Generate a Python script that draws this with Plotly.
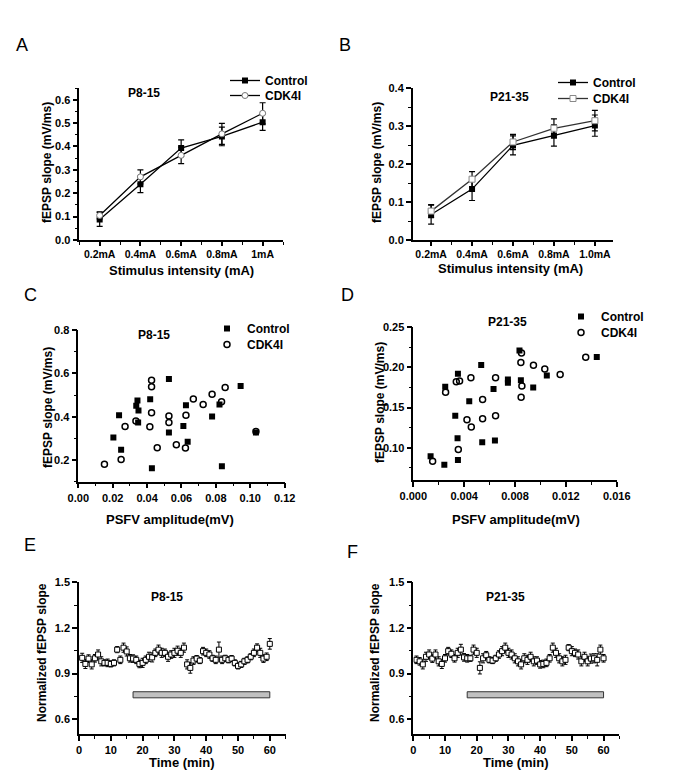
import plotly.graph_objects as go

# ---------------- data ----------------
stim_A = ["0.2mA", "0.4mA", "0.6mA", "0.8mA", "1mA"]
stim_B = ["0.2mA", "0.4mA", "0.6mA", "0.8mA", "1.0mA"]

A_ctrl = [0.088, 0.238, 0.393, 0.443, 0.504]
A_ctrl_err = [0.030, 0.035, 0.035, 0.040, 0.035]
A_cdk = [0.105, 0.270, 0.362, 0.454, 0.542]
A_cdk_err = [0.015, 0.030, 0.035, 0.045, 0.045]

B_ctrl = [0.067, 0.134, 0.249, 0.275, 0.301]
B_ctrl_err = [0.025, 0.030, 0.025, 0.028, 0.028]
B_cdk = [0.076, 0.160, 0.258, 0.294, 0.314]
B_cdk_err = [0.017, 0.020, 0.020, 0.025, 0.027]

C_ctrl_x = [0.0204, 0.0237, 0.0249, 0.0337, 0.0344, 0.0350, 0.0348, 0.0418, 0.0428, 0.0527,
            0.0527, 0.0611, 0.0626, 0.0636, 0.0778, 0.0821, 0.0835, 0.0944, 0.1033]
C_ctrl_y = [0.304, 0.407, 0.248, 0.450, 0.475, 0.429, 0.373, 0.481, 0.162, 0.574,
            0.327, 0.357, 0.453, 0.284, 0.401, 0.456, 0.171, 0.542, 0.327]
C_cdk_x = [0.0152, 0.0249, 0.0272, 0.0335, 0.0426, 0.0426, 0.0426, 0.0416, 0.0459, 0.0527,
           0.0527, 0.0570, 0.0623, 0.0626, 0.0669, 0.0726, 0.0778, 0.0833, 0.0854, 0.1033]
C_cdk_y = [0.180, 0.202, 0.355, 0.380, 0.568, 0.538, 0.418, 0.353, 0.257, 0.403,
           0.373, 0.271, 0.255, 0.407, 0.482, 0.456, 0.504, 0.469, 0.535, 0.332]

D_ctrl_x = [0.00136, 0.00244, 0.00251, 0.00330, 0.00348, 0.00351, 0.00351, 0.00440, 0.00534, 0.00542,
            0.00631, 0.00642, 0.00744, 0.00744, 0.00835, 0.00846, 0.00943, 0.01050, 0.01443]
D_ctrl_y = [0.0896, 0.0790, 0.176, 0.140, 0.112, 0.085, 0.192, 0.158, 0.203, 0.107,
            0.173, 0.109, 0.185, 0.181, 0.221, 0.184, 0.175, 0.190, 0.213]
D_cdk_x = [0.00152, 0.00254, 0.00338, 0.00364, 0.00354, 0.00422, 0.00456, 0.00453, 0.00545, 0.00545,
           0.00647, 0.00647, 0.00851, 0.00846, 0.00854, 0.00848, 0.00945, 0.01034, 0.01155, 0.01356]
D_cdk_y = [0.0833, 0.169, 0.182, 0.183, 0.098, 0.135, 0.126, 0.187, 0.160, 0.136,
           0.187, 0.140, 0.218, 0.206, 0.177, 0.163, 0.2025, 0.198, 0.191, 0.2125]

time_min = list(range(1, 61))
E_vals = [1.003, 0.963, 0.998, 0.960, 1.000, 1.025, 0.980, 0.970, 0.970, 0.963,
          0.970, 1.057, 0.990, 1.070, 1.045, 1.000, 0.998, 0.990, 0.963, 0.970,
          0.990, 1.010, 1.006, 1.036, 1.057, 1.036, 1.036, 1.010, 1.025, 1.036,
          1.050, 1.036, 1.070, 0.960, 0.937, 0.985, 0.998, 0.985, 1.047, 1.036,
          1.025, 1.000, 0.990, 1.057, 0.990, 1.000, 0.990, 0.998, 0.970, 0.950,
          0.960, 0.980, 0.990, 1.010, 1.036, 1.070, 1.036, 0.998, 1.010, 1.095]
E_err = [0.030, 0.030, 0.025, 0.030, 0.025, 0.030, 0.030, 0.020, 0.025, 0.020,
         0.020, 0.020, 0.025, 0.030, 0.030, 0.025, 0.025, 0.025, 0.025, 0.030,
         0.025, 0.030, 0.030, 0.025, 0.030, 0.030, 0.025, 0.030, 0.025, 0.030,
         0.030, 0.030, 0.030, 0.030, 0.035, 0.025, 0.020, 0.020, 0.025, 0.025,
         0.025, 0.020, 0.025, 0.050, 0.025, 0.020, 0.020, 0.020, 0.020, 0.020,
         0.020, 0.020, 0.020, 0.020, 0.025, 0.025, 0.030, 0.025, 0.025, 0.035]
F_vals = [0.990, 0.980, 0.960, 1.010, 1.025, 0.998, 1.025, 0.980, 0.963, 1.000,
          1.047, 1.030, 1.000, 1.036, 1.057, 1.006, 1.000, 1.000, 1.057, 1.036,
          0.937, 1.000, 1.020, 0.990, 0.985, 1.000, 1.025, 1.047, 1.070, 1.036,
          1.025, 1.000, 0.980, 0.960, 1.000, 0.990, 1.010, 0.980, 0.985, 0.960,
          0.963, 0.970, 1.000, 1.070, 1.036, 1.000, 0.980, 0.990, 1.070, 1.047,
          1.036, 1.025, 0.980, 1.010, 0.980, 0.998, 1.000, 0.990, 1.057, 1.000]
F_err = [0.025, 0.025, 0.030, 0.030, 0.030, 0.025, 0.030, 0.030, 0.030, 0.025,
         0.025, 0.025, 0.025, 0.030, 0.035, 0.025, 0.025, 0.020, 0.030, 0.030,
         0.040, 0.030, 0.025, 0.020, 0.020, 0.020, 0.025, 0.030, 0.030, 0.030,
         0.030, 0.030, 0.030, 0.030, 0.030, 0.030, 0.030, 0.030, 0.025, 0.025,
         0.025, 0.025, 0.025, 0.030, 0.030, 0.030, 0.030, 0.030, 0.020, 0.030,
         0.025, 0.030, 0.030, 0.030, 0.030, 0.030, 0.030, 0.040, 0.030, 0.025]
drug_window = [17, 60]
drug_band = [0.74, 0.78]

FONT = "Liberation Sans, Arial, sans-serif"
W, H = 685, 770


def px(x):
    return x / W


def py(y):
    return 1 - y / H


def axis(domain, rng, tick0, dtick, mtick0, mdtick, fmt=None, tickvals=None, ticktext=None,
         anchor=None, ticklen=5, fsize=11):
    d = dict(
        domain=domain, range=rng, showline=True, linecolor="black", linewidth=1.5,
        ticks="outside", ticklen=ticklen, tickwidth=1.5, tickcolor="black",
        showgrid=False, zeroline=False, mirror=False, automargin=False,
        tickfont=dict(family=FONT, size=fsize, color="black", weight="bold"),
        minor=dict(ticks="outside", ticklen=3, tickwidth=1, tickcolor="black",
                   tick0=mtick0, dtick=mdtick, showgrid=False),
        anchor=anchor,
    )
    if tickvals is not None:
        d.update(tickmode="array", tickvals=tickvals, ticktext=["<b>%s</b>" % t for t in ticktext])
    else:
        d.update(tick0=tick0, dtick=dtick, tickprefix="<b>", ticksuffix="</b>")
    if fmt:
        d["tickformat"] = fmt
    return d


fig = go.Figure()

idxA = list(range(len(stim_A)))
idxB = list(range(len(stim_B)))

err = lambda arr: dict(type="data", array=arr, visible=True, color="black", thickness=1.2, width=3)

# Panel A
fig.add_trace(go.Scatter(x=idxA, y=A_ctrl, error_y=err(A_ctrl_err), mode="lines+markers", name="Control",
                         line=dict(color="black", width=1.3),
                         marker=dict(symbol="square", size=6, color="black"),
                         xaxis="x", yaxis="y", legend="legend"))
fig.add_trace(go.Scatter(x=idxA, y=A_cdk, error_y=err(A_cdk_err), mode="lines+markers", name="CDK4I",
                         line=dict(color="black", width=1.3),
                         marker=dict(symbol="circle", size=6, color="white", line=dict(color="#777", width=1)),
                         xaxis="x", yaxis="y", legend="legend5"))
# Panel B
fig.add_trace(go.Scatter(x=idxB, y=B_ctrl, error_y=err(B_ctrl_err), mode="lines+markers", name="Control",
                         line=dict(color="black", width=1.3),
                         marker=dict(symbol="square", size=6, color="black"),
                         xaxis="x2", yaxis="y2", legend="legend2"))
fig.add_trace(go.Scatter(x=idxB, y=B_cdk, error_y=err(B_cdk_err), mode="lines+markers", name="CDK4I",
                         line=dict(color="#333", width=1.3),
                         marker=dict(symbol="square", size=6, color="white", line=dict(color="#888", width=1)),
                         xaxis="x2", yaxis="y2", legend="legend6"))
# Panel C
fig.add_trace(go.Scatter(x=C_ctrl_x, y=C_ctrl_y, mode="markers", name="Control",
                         marker=dict(symbol="square", size=6, color="black"),
                         xaxis="x3", yaxis="y3", legend="legend3"))
fig.add_trace(go.Scatter(x=C_cdk_x, y=C_cdk_y, mode="markers", name="CDK4I",
                         marker=dict(symbol="circle-open", size=6, color="black", line=dict(width=1.5)),
                         xaxis="x3", yaxis="y3", legend="legend7"))
# Panel D
fig.add_trace(go.Scatter(x=D_ctrl_x, y=D_ctrl_y, mode="markers", name="Control",
                         marker=dict(symbol="square", size=6, color="black"),
                         xaxis="x4", yaxis="y4", legend="legend4"))
fig.add_trace(go.Scatter(x=D_cdk_x, y=D_cdk_y, mode="markers", name="CDK4I",
                         marker=dict(symbol="circle-open", size=6, color="black", line=dict(width=1.5)),
                         xaxis="x4", yaxis="y4", legend="legend8"))
# Panel E, F
errs = lambda arr: dict(type="data", array=arr, visible=True, color="black", thickness=1, width=2)
fig.add_trace(go.Scatter(x=time_min, y=E_vals, error_y=errs(E_err), mode="markers", showlegend=False,
                         marker=dict(symbol="square", size=5, color="white", line=dict(color="black", width=1)),
                         xaxis="x5", yaxis="y5"))
fig.add_trace(go.Scatter(x=time_min, y=F_vals, error_y=errs(F_err), mode="markers", showlegend=False,
                         marker=dict(symbol="square", size=5, color="white", line=dict(color="black", width=1)),
                         xaxis="x6", yaxis="y6"))

for xa, ya in (("x5", "y5"), ("x6", "y6")):
    fig.add_shape(type="rect", xref=xa, yref=ya, x0=drug_window[0], x1=drug_window[1],
                  y0=drug_band[0], y1=drug_band[1], fillcolor="#c0c0c0", line=dict(color="#333", width=1))

rowA = [py(240), py(88)]
rowC_y = [py(481.7), py(330)]
rowD_y = [py(480), py(327)]
rowE = [py(734.3), py(582.3)]

fig.update_layout(
    width=W, height=H, margin=dict(l=0, r=0, t=0, b=0),
    paper_bgcolor="white", plot_bgcolor="white",
    font=dict(family=FONT, color="black"),
    xaxis=axis([px(79.3), px(283)], [-0.5, 4.5], None, None, -0.5, 0.5,
               tickvals=idxA, ticktext=stim_A, anchor="y", ticklen=4, fsize=10.5),
    yaxis=axis(rowA, [0, 0.65], 0, 0.1, 0.05, 0.1, fmt=".1f", anchor="x"),
    xaxis2=axis([px(412.7), px(613.3)], [-0.45, 4.45], None, None, -0.5, 0.5,
                tickvals=idxB, ticktext=stim_B, anchor="y2", ticklen=4, fsize=10.5),
    yaxis2=axis(rowA, [0, 0.4], 0, 0.1, 0.05, 0.1, fmt=".1f", anchor="x2"),
    xaxis3=axis([px(78.3), px(285)], [0, 0.1202], 0, 0.02, 0.01, 0.02, fmt=".2f", anchor="y3"),
    yaxis3=axis(rowC_y, [0.1, 0.8], 0, 0.2, 0.1, 0.2, fmt=".1f", anchor="x3"),
    xaxis4=axis([px(413.3), px(617)], [0, 0.01602], 0, 0.004, 0.002, 0.004, fmt=".3f", anchor="y4"),
    yaxis4=axis(rowD_y, [0.06, 0.2502], 0.1, 0.05, 0.075, 0.05, fmt=".2f", anchor="x4"),
    xaxis5=axis([px(79), px(285.7)], [0, 65], 0, 10, 5, 10, anchor="y5"),
    yaxis5=axis(rowE, [0.5, 1.5], 0.6, 0.3, 0.75, 0.3, fmt=".1f", anchor="x5"),
    xaxis6=axis([px(413.3), px(619.4)], [0, 65], 0, 10, 5, 10, anchor="y6"),
    yaxis6=axis(rowE, [0.5, 1.5], 0.6, 0.3, 0.75, 0.3, fmt=".1f", anchor="x6"),
)

leg = dict(bgcolor="rgba(0,0,0,0)", font=dict(family=FONT, size=12, color="black", weight="bold"),
           itemwidth=30, tracegroupgap=0, xanchor="left", yanchor="top")
fig.update_layout(
    legend=dict(leg, x=px(225), y=py(66)),
    legend5=dict(leg, x=px(225), y=py(81)),
    legend2=dict(leg, x=px(553), y=py(68)),
    legend6=dict(leg, x=px(553), y=py(84)),
    legend3=dict(leg, x=px(207), y=py(314)),
    legend7=dict(leg, x=px(207), y=py(330)),
    legend4=dict(leg, x=px(561), y=py(302)),
    legend8=dict(leg, x=px(561), y=py(318)),
)

ann = []


def text(x, y, s, size=12, bold=True, angle=0, family=FONT):
    ann.append(dict(x=px(x), y=py(y), xref="paper", yref="paper", text=s, showarrow=False,
                    xanchor="center", yanchor="middle", textangle=angle,
                    font=dict(family=family, size=size, color="black", weight="bold" if bold else "normal")))


LETTER = "Liberation Sans Narrow, Liberation Sans, Arial, sans-serif"
for (x, y, s) in [(22, 45, "A"), (345, 45, "B"), (30, 295, "C"), (348, 295, "D"), (30, 545, "E"), (352, 552, "F")]:
    text(x, y, s, size=18, bold=False, family=LETTER)

for (x, y, s) in [(144, 93, "P8-15"), (509, 97, "P21-35"), (154, 335, "P8-15"), (507, 322, "P21-35"),
                  (167, 597, "P8-15"), (505, 597, "P21-35")]:
    text(x, y, s, size=12)

# axis titles
text(181, 270, "Stimulus intensity (mA)", size=13)
text(510, 268, "Stimulus intensity (mA)", size=13)
text(170, 519, "PSFV amplitude(mV)", size=13)
text(516, 519, "PSFV amplitude(mV)", size=13)
text(182, 762, "Time (min)", size=13)
text(516, 762, "Time (min)", size=13)
text(47, 163, "fEPSP slope (mV/ms)", size=12, angle=-90)
text(377, 163, "fEPSP slope (mV/ms)", size=12, angle=-90)
text(48, 408, "fEPSP slope (mV/ms)", size=12, angle=-90)
text(380, 403, "fEPSP slope (mV/ms)", size=12, angle=-90)
text(42, 653, "Normalized fEPSP slope", size=12, angle=-90)
text(375, 653, "Normalized fEPSP slope", size=12, angle=-90)

fig.update_layout(annotations=ann)
fig.write_html("out.html", config={"displayModeBar": False},
               post_script="document.body.style.margin='0px';document.body.style.overflow='hidden';")
